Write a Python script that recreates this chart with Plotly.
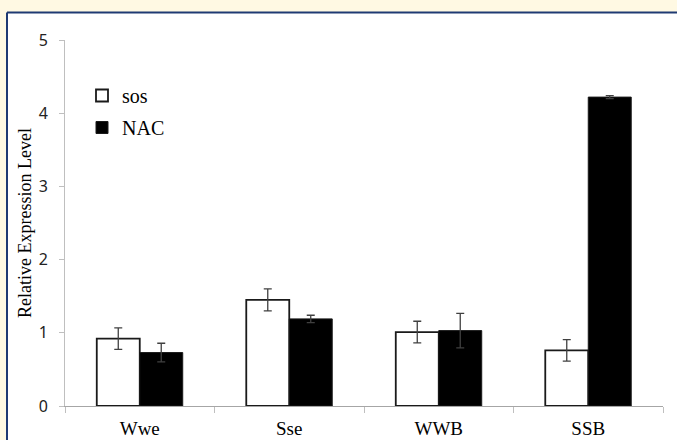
import plotly.graph_objects as go

categories = ["Wwe", "Sse", "WWB", "SSB"]
sos_values = [0.92, 1.45, 1.01, 0.76]
sos_errors = [0.147, 0.15, 0.148, 0.148]
nac_values = [0.73, 1.19, 1.03, 4.22]
nac_errors = [0.127, 0.05, 0.235, 0.02]
y_ticks = [0, 1, 2, 3, 4, 5]

W, H = 677, 440
ml, mr, mt, mb = 65, 14, 40, 34
pw, ph = W - ml - mr, H - mt - mb

def px_x(p):
    return (p - ml) / pw

def px_y(p):
    return (H - mb - p) / ph

err_style = dict(type="data", visible=True, color="#404040", thickness=1.3, width=4)

fig = go.Figure()
fig.add_trace(go.Bar(
    x=categories, y=sos_values, name="sos",
    marker=dict(color="white", line=dict(color="#1a1a1a", width=1.8)),
    error_y=dict(array=sos_errors, **err_style),
    legendgroup="a",
))
fig.add_trace(go.Bar(
    x=categories, y=nac_values, name="NAC",
    marker=dict(color="black", line=dict(color="#1a1a1a", width=1)),
    error_y=dict(array=nac_errors, **err_style),
    legendgroup="b",
))

border = "#1F3A73"
fig.update_layout(
    width=W, height=H,
    margin=dict(l=ml, r=mr, t=mt, b=mb, pad=0, autoexpand=False),
    paper_bgcolor="#FFF9E3",
    plot_bgcolor="white",
    barmode="group",
    bargap=0.425,
    bargroupgap=0,
    showlegend=True,
    legend=dict(
        x=px_x(82), y=px_y(76), xanchor="left", yanchor="top",
        bgcolor="rgba(0,0,0,0)",
        font=dict(family="Liberation Serif, Times New Roman, serif", size=20, color="black"),
        traceorder="grouped", tracegroupgap=3,
    ),
    xaxis=dict(
        type="category", automargin=False,
        showline=True, linecolor="#a6a6a6", linewidth=1,
        ticks="outside", ticklen=6, tickcolor="#bfbfbf", tickson="boundaries",
        showgrid=False, zeroline=False,
        tickfont=dict(family="Liberation Serif, Times New Roman, serif", size=19, color="black"),
        ticklabelstandoff=5,
    ),
    yaxis=dict(
        range=[0, 5], tickvals=y_ticks, automargin=False,
        showline=True, linecolor="#bfbfbf", linewidth=1,
        ticks="outside", ticklen=5, tickcolor="#bfbfbf",
        showgrid=False, zeroline=False,
        tickfont=dict(family="Noto Sans, Open Sans, sans-serif", size=16, color="#222222"),
        ticklabelstandoff=8,
        title=dict(text="Relative Expression Level", standoff=2,
                   font=dict(family="Liberation Serif, Times New Roman, serif", size=18, color="black")),
    ),
    shapes=[
        dict(type="rect", xref="paper", yref="paper", layer="below",
             x0=px_x(7), x1=px_x(720), y0=px_y(480), y1=px_y(12.5),
             fillcolor="white", line=dict(width=0)),
        dict(type="line", xref="paper", yref="paper", layer="below",
             x0=px_x(7), x1=px_x(720), y0=px_y(12.5), y1=px_y(12.5),
             line=dict(color=border, width=2)),
        dict(type="line", xref="paper", yref="paper", layer="below",
             x0=px_x(7), x1=px_x(7), y0=px_y(12.5), y1=px_y(480),
             line=dict(color=border, width=2)),
    ],
)

fig.write_html(
    "out.html",
    config={"displayModeBar": False},
    post_script=(
        "document.documentElement.style.overflow='hidden';"
        "document.body.style.margin='0';"
        "document.body.style.background='#FFF9E3';"
        "document.body.style.overflow='hidden';"
    ),
)
